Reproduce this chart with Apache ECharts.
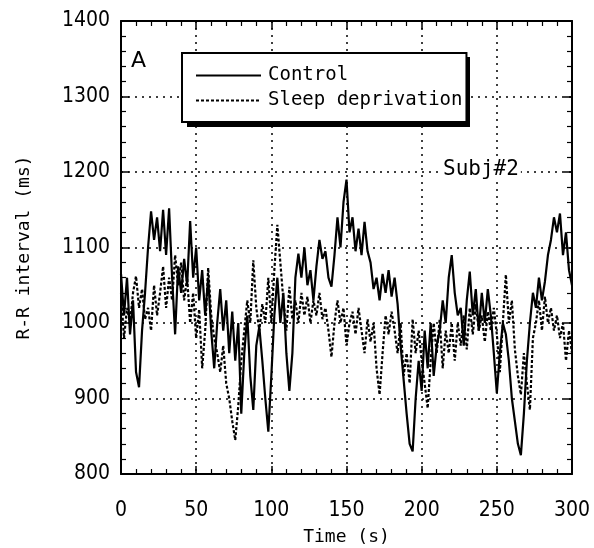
<!DOCTYPE html>
<html>
<head>
<meta charset="utf-8">
<script src="https://cdn.jsdelivr.net/npm/echarts@6/dist/echarts.min.js"></script>
<style>
html,body{margin:0;padding:0;background:#fff;}
#chart{width:594px;height:548px;}
</style>
</head>
<body>
<div id="chart"></div>
<script>
// Sample spacing (s) of the R-R series
const timeStep = 2;

// Control (solid) R-R interval, ms, t = 0..300 s
const controlRR = [
1065,1010,1060,985,1030,935,915,990,1040,1100,
1148,1110,1140,1095,1150,1090,1152,1060,985,1075,
1040,1085,1050,1135,1060,1100,1030,1070,1010,1060,
990,940,1000,1045,990,1030,960,1015,950,1000,
880,960,1010,930,885,970,995,950,900,856,
930,1010,1060,1000,1040,960,910,960,1060,1092,
1060,1100,1050,1070,1030,1075,1110,1085,1095,1060,
1048,1090,1140,1100,1160,1190,1120,1140,1095,1125,
1090,1134,1095,1080,1045,1060,1030,1065,1040,1070,
1035,1060,1025,970,925,880,840,830,900,950,
910,990,940,1000,930,970,990,1030,1000,1060,
1090,1040,1010,1020,970,1030,1068,1010,1045,990,
1040,1000,1045,1010,960,907,960,1000,985,950,
900,870,840,825,880,950,1000,1040,1020,1060,
1030,1055,1090,1110,1140,1120,1145,1090,1120,1070,
1050
];

// Sleep deprivation (dotted) R-R interval, ms, t = 0..300 s
const sleepRR = [
1040,980,1020,1000,1040,1062,1020,1045,1005,1020,
990,1050,1010,1040,1075,1020,1060,1030,1090,1050,
1080,1030,1060,1000,1040,980,1018,940,990,1073,
1010,980,960,935,970,920,900,870,845,890,
950,990,1030,1000,1083,1020,990,1025,1000,1060,
1000,1070,1130,1080,1030,990,1048,1005,1030,1000,
1040,1010,1035,1000,1030,1010,1040,1005,1020,990,
955,1000,1030,1000,1020,970,1000,1015,985,1020,
990,960,1005,975,1000,940,905,960,1010,985,
1015,990,960,1000,930,960,920,1005,960,990,
950,920,887,950,1000,960,1005,940,990,960,
1000,950,1000,970,1010,965,1020,985,1025,990,
1010,975,1015,990,1020,985,935,1000,1064,1000,
1030,965,930,905,960,920,885,980,1000,1030,
990,1035,1000,1020,990,1010,980,1000,950,990,
960
];

const seriesNames = ['Control', 'Sleep deprivation'];
const xTicks = {min: 0, max: 300, interval: 50};
const yTicks = {min: 800, max: 1400, interval: 100};
const panelLabel = 'A';
const subjectLabel = 'Subj#2';

const toPairs = arr => arr.map((v, i) => [i * timeStep, v]);

const labelFont = '"DejaVu Sans Condensed","Liberation Sans Narrow","Liberation Sans",sans-serif';
const monoFont = '"DejaVu Sans Mono","Liberation Mono",monospace';

function axisBase(extra) {
  return Object.assign({
    type: 'value',
    axisLine: {show: true, onZero: false, lineStyle: {color: '#000', width: 2}},
    axisTick: {show: true, inside: true, length: 8, lineStyle: {color: '#000', width: 1.5}},
    minorTick: {show: true, splitNumber: 5, length: 5, lineStyle: {color: '#000', width: 1.2}},
    axisLabel: {show: false},
    splitLine: {show: false}
  }, extra);
}
const gridSplit = {show: true, lineStyle: {color: '#000', width: 1.5, type: [2, 5]}};
const plainNum = v => String(v);

const chart = echarts.init(document.getElementById('chart'), null, {renderer: 'canvas'});
chart.setOption({
  animation: false,
  backgroundColor: '#fff',
  grid: {left: 121, right: 22, top: 21, bottom: 74, containLabel: false, outerBoundsMode: 'none'},
  xAxis: [
    axisBase(Object.assign({}, xTicks, {
      position: 'bottom',
      axisLabel: {show: true, margin: 26, color: '#000', fontSize: 21, fontFamily: labelFont, formatter: plainNum},
      splitLine: gridSplit,
      name: 'Time (s)', nameLocation: 'middle', nameGap: 54,
      nameTextStyle: {color: '#000', fontSize: 18, fontFamily: monoFont}
    })),
    axisBase(Object.assign({}, xTicks, {position: 'top'}))
  ],
  yAxis: [
    axisBase(Object.assign({}, yTicks, {
      position: 'left',
      axisLabel: {show: true, margin: 11, color: '#000', fontSize: 21, fontFamily: labelFont, formatter: plainNum},
      splitLine: gridSplit,
      name: 'R-R interval (ms)', nameLocation: 'middle', nameGap: 88,
      nameTextStyle: {color: '#000', fontSize: 18, fontFamily: monoFont}
    })),
    axisBase(Object.assign({}, yTicks, {position: 'right'}))
  ],
  legend: {
    orient: 'vertical',
    left: 182, top: 53, z: 10,
    padding: [13, 4, 12, 13],
    itemGap: 6,
    itemWidth: 65, itemHeight: 14,
    backgroundColor: '#fff',
    borderColor: '#000', borderWidth: 2,
    itemStyle: {opacity: 0},
    textStyle: {color: '#000', fontSize: 19, fontFamily: monoFont, padding: [0, 0, 0, 2]},
    data: seriesNames
  },
  graphic: [
    // drop shadow of the legend box
    {type: 'rect', left: 187, top: 57, z: 9, silent: true,
     shape: {width: 283, height: 70}, style: {fill: '#000'}},
    {type: 'text', left: 131, top: 50, z: 50,
     style: {text: panelLabel, fill: '#000', font: '22px "DejaVu Sans", sans-serif'}},
    {type: 'text', left: 441, top: 158, z: 50,
     style: {text: subjectLabel, fill: '#000', font: '21px ' + monoFont,
             backgroundColor: '#fff', padding: [1, 2, 1, 2]}}
  ],
  series: [
    {name: seriesNames[0], type: 'line', data: toPairs(controlRR), symbol: 'none',
     lineStyle: {color: '#000', width: 2.2, type: 'solid'}, itemStyle: {color: '#000'}, z: 3},
    {name: seriesNames[1], type: 'line', data: toPairs(sleepRR), symbol: 'none',
     lineStyle: {color: '#000', width: 2.2, type: [3, 2]}, itemStyle: {color: '#000'}, z: 2}
  ]
});
</script>
</body>
</html>
